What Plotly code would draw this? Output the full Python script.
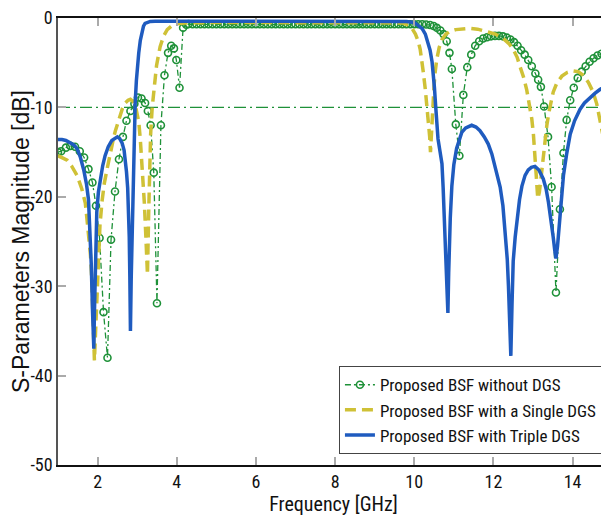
import plotly.graph_objects as go

# ---- Proposed BSF without DGS (green, markers) ----
G_FREQ = [1.0, 1.08, 1.2, 1.31, 1.43, 1.55, 1.66, 1.77, 1.87, 1.96, 2.05, 2.15, 2.25, 2.34, 2.44,
          2.54, 2.64, 2.73, 2.83, 2.93, 3.02, 3.11, 3.2, 3.27, 3.34, 3.42, 3.5, 3.6, 3.69, 3.78,
          3.86, 3.93, 3.99, 4.07, 4.16, 4.24,
          4.3, 4.4, 4.5, 4.6, 4.7, 4.8, 4.9, 5.0, 5.1, 5.2, 5.3, 5.4, 5.5, 5.6, 5.7, 5.8, 5.9,
          6.0, 6.1, 6.2, 6.3, 6.4, 6.5, 6.6, 6.7, 6.8, 6.9, 7.0, 7.1, 7.2, 7.3, 7.4, 7.5, 7.6,
          7.7, 7.8, 7.9, 8.0, 8.1, 8.2, 8.3, 8.4, 8.5, 8.6, 8.7, 8.8, 8.9, 9.0, 9.1, 9.2, 9.3,
          9.4, 9.5, 9.6, 9.7, 9.8, 9.9, 10.0, 10.1, 10.2, 10.3, 10.4,
          10.49, 10.57, 10.66, 10.74, 10.82, 10.89, 10.95, 11.05, 11.14, 11.24, 11.34, 11.44,
          11.54, 11.64, 11.74, 11.84, 11.94, 12.04, 12.14, 12.24, 12.34, 12.43, 12.52, 12.61,
          12.7, 12.79, 12.88, 12.97, 13.06, 13.13, 13.2, 13.28, 13.38, 13.47, 13.58, 13.68,
          13.77, 13.85, 13.94, 14.03, 14.13, 14.23, 14.33, 14.43, 14.53, 14.63, 14.73, 14.83, 14.92]
G_DB = [-15.0, -14.9, -14.5, -14.3, -14.4, -14.9, -15.6, -16.9, -18.4, -21.0, -24.6, -32.9, -38.0, -24.8, -19.4,
        -15.8, -13.3, -11.5, -10.4, -9.6, -8.9, -9.0, -9.5, -10.4, -12.0, -17.3, -31.9, -12.0, -6.4, -3.9,
        -3.1, -3.4, -4.7, -7.8, -1.1, -0.75,
        -0.68, -0.7, -0.7, -0.7, -0.7, -0.7, -0.7, -0.7, -0.7, -0.7, -0.7, -0.7, -0.7, -0.7, -0.7, -0.7, -0.7,
        -0.7, -0.7, -0.7, -0.7, -0.7, -0.7, -0.7, -0.7, -0.7, -0.7, -0.7, -0.7, -0.7, -0.7, -0.7, -0.7, -0.7,
        -0.7, -0.7, -0.7, -0.7, -0.7, -0.7, -0.7, -0.7, -0.7, -0.7, -0.7, -0.7, -0.7, -0.7, -0.7, -0.7, -0.7,
        -0.7, -0.7, -0.7, -0.7, -0.7, -0.7, -0.7, -0.7, -0.7, -0.72, -0.78,
        -0.9, -1.1, -1.4, -1.8, -2.6, -3.9, -5.7, -11.9, -15.4, -8.6, -5.5, -4.1,
        -3.1, -2.6, -2.3, -2.15, -2.05, -2.0, -2.0, -2.05, -2.2, -2.4, -2.7, -3.1,
        -3.6, -4.1, -4.7, -5.4, -6.2, -6.9, -7.7, -9.9, -13.3, -18.9, -30.7, -21.4,
        -15.1, -11.4, -9.2, -7.8, -6.7, -6.0, -5.4, -4.9, -4.5, -4.2, -4.0, -3.9, -3.8]

# ---- Proposed BSF with a Single DGS (yellow dashed) ----
Y_FREQ = [1.0, 1.1, 1.23, 1.35, 1.48, 1.6, 1.69, 1.73, 1.78, 1.82, 1.85, 1.87, 1.9, 1.92, 1.95,
          1.98, 2.02, 2.06, 2.11, 2.17, 2.24, 2.32, 2.4, 2.45, 2.51, 2.57, 2.63, 2.7, 2.77, 2.83,
          2.89, 2.95, 3.0, 3.04, 3.08, 3.13, 3.18, 3.22, 3.26, 3.29, 3.31, 3.34, 3.38, 3.43, 3.49,
          3.58, 3.67, 3.76, 3.88, 4.0, 4.2, 5.0, 6.0, 7.0, 8.0, 9.0, 9.7, 9.85, 9.95, 10.03,
          10.1, 10.15, 10.2, 10.23, 10.28, 10.32, 10.36, 10.39, 10.41, 10.44, 10.47, 10.5, 10.53, 10.57, 10.63,
          10.7, 10.8, 10.9, 11.05, 11.2, 11.41, 11.6, 11.83, 12.05, 12.25, 12.4, 12.5, 12.6, 12.67, 12.76,
          12.84, 12.91, 12.97, 13.01, 13.05, 13.08, 13.12, 13.16, 13.2, 13.25, 13.3, 13.35, 13.4, 13.45, 13.51,
          13.6, 13.73, 13.86, 14.0, 14.14, 14.27, 14.4, 14.52, 14.61, 14.69, 14.77, 14.85, 14.95]
Y_DB = [-15.4, -15.6, -15.9, -16.6, -17.6, -19.1, -20.7, -22.4, -24.3, -26.5, -29.0, -31.7, -35.5, -38.3, -35.0,
        -31.7, -26.5, -23.2, -20.6, -18.5, -16.9, -15.0, -13.5, -12.6, -11.7, -10.8, -10.1, -9.5, -9.2, -9.1,
        -9.3, -9.7, -10.7, -11.6, -13.6, -16.5, -20.6, -24.5, -28.7, -22.0, -17.0, -13.0, -10.0, -7.6, -5.3,
        -3.2, -2.0, -1.3, -0.85, -0.65, -0.55, -0.5, -0.5, -0.5, -0.5, -0.5, -0.55, -0.8, -1.2, -1.8,
        -2.6, -3.5, -4.8, -6.1, -8.0, -9.8, -11.5, -13.3, -15.0, -12.0, -9.5, -7.6, -6.0, -4.6, -3.3,
        -2.4, -1.8, -1.5, -1.3, -1.2, -1.15, -1.25, -1.5, -1.8, -2.3, -2.9, -3.5, -4.4, -5.4, -6.6,
        -8.0, -9.6, -11.3, -13.0, -15.0, -17.5, -20.2, -19.5, -18.0, -15.8, -13.8, -12.0, -10.6, -9.5, -8.3,
        -7.3, -6.5, -6.1, -5.9, -6.0, -6.4, -7.2, -8.3, -9.6, -11.3, -13.0, -15.0, -17.5]

# ---- Proposed BSF with Triple DGS (blue solid) ----
B_FREQ = [1.0, 1.1, 1.2, 1.3, 1.4, 1.48, 1.56, 1.65, 1.72, 1.77, 1.81, 1.84, 1.87, 1.89, 1.905,
          1.92, 1.94, 1.96, 1.98, 2.02, 2.07, 2.13, 2.19, 2.27, 2.36, 2.44, 2.5, 2.56, 2.62, 2.67,
          2.7, 2.73, 2.76, 2.78, 2.8, 2.815, 2.83, 2.85, 2.87, 2.89, 2.91, 2.93, 2.95, 2.98, 3.01,
          3.04, 3.08, 3.12, 3.16, 3.2, 3.26, 3.33, 3.45, 4.0, 5.0, 6.0, 7.0, 8.0, 9.0, 9.8,
          10.0, 10.1, 10.2, 10.28, 10.34, 10.4, 10.45, 10.48, 10.51, 10.54, 10.57, 10.6, 10.65, 10.7, 10.73,
          10.76, 10.79, 10.81, 10.83, 10.85, 10.87, 10.89, 10.91, 10.95, 11.0, 11.07, 11.13, 11.2, 11.3, 11.45,
          11.56, 11.66, 11.77, 11.87, 11.96, 12.04, 12.1, 12.17, 12.24, 12.3, 12.35, 12.38, 12.41, 12.44, 12.47,
          12.5, 12.55, 12.6, 12.66, 12.72, 12.8, 12.88, 12.96, 13.05, 13.15, 13.26, 13.33, 13.39, 13.45, 13.51,
          13.55, 13.58, 13.62, 13.68, 13.72, 13.77, 13.85, 13.94, 14.05, 14.19, 14.3, 14.44, 14.57, 14.69, 14.8, 14.95]
B_DB = [-13.6, -13.6, -13.7, -13.9, -14.2, -14.6, -15.5, -17.0, -18.6, -20.3, -23.5, -27.5, -32.5, -36.0, -37.0,
        -33.0, -28.0, -24.0, -21.7, -19.5, -18.0, -16.5, -15.4, -14.4, -13.7, -13.4, -13.3, -13.5, -14.0, -14.8,
        -15.8, -17.2, -19.0, -21.5, -24.5, -29.0, -35.0, -29.0, -24.2, -19.0, -14.5, -11.5, -9.5, -7.0, -5.2,
        -3.9, -2.5, -1.4, -0.9, -0.6, -0.45, -0.38, -0.35, -0.35, -0.35, -0.35, -0.35, -0.35, -0.35, -0.38,
        -0.5, -0.8, -1.2, -1.8, -2.6, -3.6, -4.9, -6.1, -7.8, -9.8, -11.7, -13.5, -14.9, -16.3, -19.0,
        -22.4, -25.5, -28.0, -30.5, -33.0, -28.5, -25.0, -22.4, -18.8, -16.4, -14.6, -13.6, -12.8, -12.3, -12.0,
        -12.2, -12.6, -13.3, -14.1, -15.2, -16.5, -17.6, -18.9, -21.0, -24.0, -27.0, -30.0, -33.5, -37.8, -32.0,
        -27.2, -24.5, -22.4, -20.3, -18.8, -17.6, -17.0, -16.7, -16.6, -17.0, -18.0, -19.1, -20.6, -22.3, -24.5,
        -26.0, -26.9, -25.5, -22.4, -20.0, -17.6, -15.2, -13.0, -11.5, -10.2, -9.5, -8.9, -8.4, -8.0, -7.7, -7.3]

REF_LEVEL = -10
X_TICKS = [2, 4, 6, 8, 10, 12, 14]
Y_TICKS = [0, -10, -20, -30, -40, -50]
NAMES = ["Proposed BSF without DGS", "Proposed BSF with a Single DGS", "Proposed BSF with Triple DGS"]

GREEN = "#1e9138"
YELLOW = "#cfc136"
BLUE = "#1f5bbf"
NARROW = "Liberation Sans Narrow, Arial Narrow, Roboto Condensed, Liberation Sans, Arial, sans-serif"
WIDE = "Liberation Sans, Arial, sans-serif"

fig = go.Figure()

# -10 dB reference line
fig.add_hline(y=REF_LEVEL, line=dict(color=GREEN, width=1.2, dash="12px,4px,2px,4px"), layer="below")

fig.add_trace(go.Scatter(
    x=G_FREQ, y=G_DB, name=NAMES[0], mode="lines+markers",
    line=dict(color=GREEN, width=1.3, dash="6px,3px,2px,3px"),
    marker=dict(symbol="circle-open", size=7, color=GREEN, line=dict(width=1.6, color=GREEN)),
))
fig.add_trace(go.Scatter(
    x=Y_FREQ, y=Y_DB, name=NAMES[1], mode="lines",
    line=dict(color=YELLOW, width=3.5, dash="11px,6px"),
))
fig.add_trace(go.Scatter(
    x=B_FREQ, y=B_DB, name=NAMES[2], mode="lines",
    line=dict(color=BLUE, width=3.5),
))

# page body has an 8px margin: figure is shifted by 8px, so compensate
fig.update_layout(
    width=601, height=510,
    margin=dict(l=50, r=0, t=10, b=53, autoexpand=False),
    paper_bgcolor="white", plot_bgcolor="white",
    font=dict(family=NARROW, size=17, color="#111"),
    showlegend=True,
    legend=dict(
        x=0.989, y=0.221, xanchor="right", yanchor="top",
        bgcolor="white", bordercolor="#444", borderwidth=1,
        font=dict(family=NARROW, size=17, color="#111"),
        tracegroupgap=0, itemwidth=30,
    ),
)
fig.update_xaxes(
    range=[1, 14.92], tickvals=X_TICKS, ticktext=[str(v) for v in X_TICKS],
    ticks="inside", ticklen=8, tickwidth=2, tickcolor="#aaaaaa",
    showline=True, linecolor="#111", linewidth=1.5, mirror="ticks",
    showgrid=False, zeroline=False, automargin=False,
    title=dict(text="Frequency [GHz]", font=dict(family=NARROW, size=20), standoff=0),
    tickfont=dict(family=NARROW, size=18),
)
fig.update_yaxes(
    range=[-50, 0], tickvals=Y_TICKS, ticktext=[str(v) for v in Y_TICKS],
    ticks="inside", ticklen=8, tickwidth=2, tickcolor="#aaaaaa",
    showline=True, linecolor="#555", linewidth=1.5,
    showgrid=False, zeroline=False, automargin=False,
    ticklabeloverflow="allow",
    title=dict(text="S-Parameters Magnitude [dB]", font=dict(family=WIDE, size=23), standoff=2),
    tickfont=dict(family=NARROW, size=18),
)

fig.write_html("out.html")
